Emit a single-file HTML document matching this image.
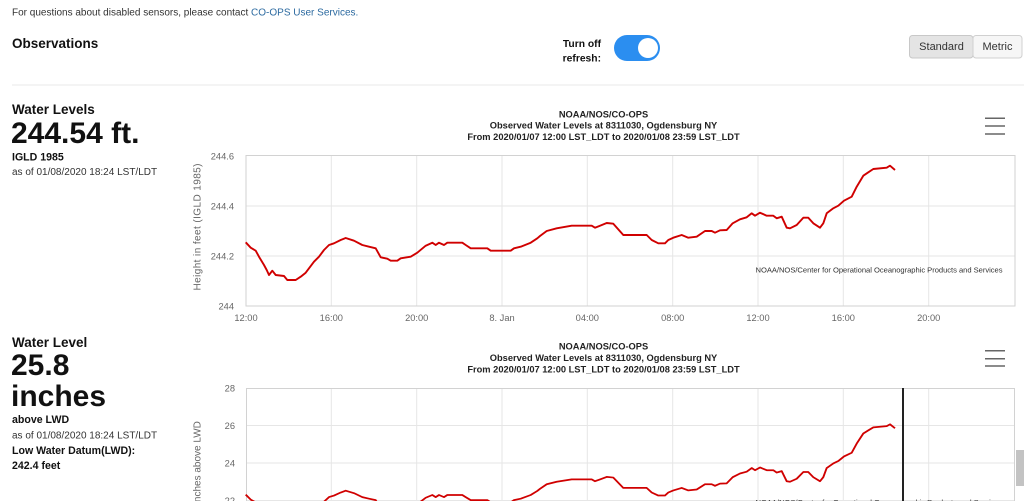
<!DOCTYPE html>
<html><head><meta charset="utf-8"><style>
html,body{margin:0;padding:0;background:#fff;overflow:hidden;width:1024px;height:501px}
svg{display:block;font-family:"Liberation Sans",Arial,sans-serif;overflow:hidden}
</style></head><body>
<svg width="1024" height="501" viewBox="0 0 1024 501" xmlns="http://www.w3.org/2000/svg">
<defs><clipPath id="pg"><rect x="0" y="0" width="1024" height="501"/></clipPath></defs>
<rect width="1024" height="501" fill="#fff"/>
<text x="12" y="15.5" font-size="10" fill="#333">For questions about disabled sensors, please contact <tspan fill="#2c6aa0">CO-OPS User Services.</tspan></text>
<text x="12" y="48" font-size="13.5" font-weight="bold" fill="#111">Observations</text>
<text x="601" y="46.8" font-size="10.3" font-weight="bold" fill="#111" text-anchor="end">Turn off</text>
<text x="601" y="61.6" font-size="10.3" font-weight="bold" fill="#111" text-anchor="end">refresh:</text>
<rect x="614" y="35" width="46" height="26" rx="13" fill="#2b8ef0"/>
<circle cx="648" cy="48" r="10" fill="#fff"/>
<rect x="909.5" y="35.5" width="63.5" height="22.5" rx="3" fill="#e4e4e4" stroke="#c8c8c8"/>
<rect x="973" y="35.5" width="49" height="22.5" rx="3" fill="#f6f6f6" stroke="#d0d0d0"/>
<text x="941.5" y="50" font-size="11" fill="#333" text-anchor="middle">Standard</text>
<text x="997.5" y="50" font-size="11" fill="#333" text-anchor="middle">Metric</text>
<line x1="12" y1="85" x2="1024" y2="85" stroke="#e8e8e8"/>

<!-- left panel 1 -->
<text x="12" y="114" font-size="13.5" font-weight="bold" fill="#111">Water Levels</text>
<text x="11" y="143" font-size="30" font-weight="bold" fill="#111">244.54 ft.</text>
<text x="12" y="160.5" font-size="10.6" font-weight="bold" fill="#111">IGLD 1985</text>
<text x="12" y="175" font-size="10" fill="#333">as of 01/08/2020 18:24 LST/LDT</text>

<!-- left panel 2 -->
<text x="12" y="347" font-size="13.5" font-weight="bold" fill="#111">Water Level</text>
<text x="11" y="375" font-size="30" font-weight="bold" fill="#111">25.8</text>
<text x="11" y="406" font-size="30" font-weight="bold" fill="#111">inches</text>
<text x="12" y="423" font-size="10.6" font-weight="bold" fill="#111">above LWD</text>
<text x="12" y="438.3" font-size="10" fill="#333">as of 01/08/2020 18:24 LST/LDT</text>
<text x="12" y="454" font-size="10.6" font-weight="bold" fill="#111">Low Water Datum(LWD):</text>
<text x="12" y="469" font-size="10.6" font-weight="bold" fill="#111">242.4 feet</text>

<!-- chart 1 -->
<g font-size="9.3" font-weight="bold" fill="#222" text-anchor="middle">
<text x="603.5" y="117.3">NOAA/NOS/CO-OPS</text>
<text x="603.5" y="128.7">Observed Water Levels at 8311030, Ogdensburg NY</text>
<text x="603.5" y="140">From 2020/01/07 12:00 LST_LDT to 2020/01/08 23:59 LST_LDT</text>
</g>
<g stroke="#666" stroke-width="1.5">
<line x1="985" y1="118.3" x2="1005" y2="118.3"/><line x1="985" y1="126" x2="1005" y2="126"/><line x1="985" y1="134" x2="1005" y2="134"/>
</g>
<g stroke="#e6e6e6" stroke-width="1">
<line x1="331.3" y1="155" x2="331.3" y2="306"/><line x1="416.7" y1="155" x2="416.7" y2="306"/><line x1="502" y1="155" x2="502" y2="306"/><line x1="587.3" y1="155" x2="587.3" y2="306"/><line x1="672.7" y1="155" x2="672.7" y2="306"/><line x1="758" y1="155" x2="758" y2="306"/><line x1="843.3" y1="155" x2="843.3" y2="306"/><line x1="928.7" y1="155" x2="928.7" y2="306"/>
<line x1="246" y1="206" x2="1015" y2="206"/><line x1="246" y1="256" x2="1015" y2="256"/>
</g>
<rect x="246" y="155.5" width="769" height="150.5" fill="none" stroke="#d2d2d2"/>
<g font-size="9.3" fill="#666" text-anchor="end">
<text x="234" y="159.5">244.6</text><text x="234" y="209.5">244.4</text><text x="234" y="259.5">244.2</text><text x="234" y="309.5">244</text>
</g>
<g font-size="9.3" fill="#666" text-anchor="middle">
<text x="246" y="321">12:00</text><text x="331.3" y="321">16:00</text><text x="416.7" y="321">20:00</text><text x="502" y="321">8. Jan</text><text x="587.3" y="321">04:00</text><text x="672.7" y="321">08:00</text><text x="758" y="321">12:00</text><text x="843.3" y="321">16:00</text><text x="928.7" y="321">20:00</text>
</g>
<text transform="translate(200.5,227) rotate(-90)" font-size="10" fill="#666" text-anchor="middle" textLength="127">Height in feet (IGLD 1985)</text>
<text x="1002.5" y="272.5" font-size="7.6" fill="#333" text-anchor="end" textLength="247">NOAA/NOS/Center for Operational Oceanographic Products and Services</text>
<polyline id="wl" fill="none" stroke="#d00000" stroke-width="1.9" stroke-linejoin="round" points="245.7,242.3 250.7,247.7 255.7,250.7 259,256.7 264,265 266.7,270 269,275 272.3,270.7 275.7,275 284,276 287.3,280 295.7,280 300.7,276.7 305.7,272.7 309,268.3 314,261.7 319,256.7 324,250 329,245 334,243.3 340.7,240 345.7,238 354,240.7 362.3,245 369,246.7 375.7,248.3 380.7,257.3 387.3,258.7 390.7,260.7 397.3,260.7 400.7,258.3 410.7,256.7 417.3,252.7 425.7,245.7 432.3,242.7 435.7,245 439,242.7 444,245 447.3,242.7 462.3,242.7 465.7,245 470.7,248.3 487.3,248.3 490.7,250.7 510.7,250.7 514,248.3 520.7,246.7 530.7,242.7 537.3,238.3 540,236 546.7,231 556.7,228.3 571.7,225.7 591.7,225.7 595,227.7 600,225.7 606.7,223 613.3,223.7 623.3,235 646.7,235 651.7,240 658.3,243.3 665,243.3 668.3,240 673.3,237.7 681.7,235 688.3,237.7 696.7,236.7 705,231 711.7,231 715,232.7 720,230.3 726.7,230 732.7,223.3 740,219.3 746.7,217.3 751.7,213.3 755,215.7 760,212.7 766.7,215.7 773.3,215.7 776.7,218.3 781.7,216.7 786.7,227.7 790,228.3 796.7,225 803.3,217.7 808.3,217.7 813.3,223.3 820,227.7 823.3,223.3 826.7,213.3 833.3,208.3 838.3,205.7 844,200.7 851.7,196.7 856.7,186.7 863.3,175.7 868.3,172.3 873.3,169 886.7,167.7 890,165.7 895,170"/>

<!-- chart 2 -->
<g font-size="9.3" font-weight="bold" fill="#222" text-anchor="middle">
<text x="603.5" y="349.3">NOAA/NOS/CO-OPS</text>
<text x="603.5" y="361">Observed Water Levels at 8311030, Ogdensburg NY</text>
<text x="603.5" y="372.7">From 2020/01/07 12:00 LST_LDT to 2020/01/08 23:59 LST_LDT</text>
</g>
<g stroke="#666" stroke-width="1.5">
<line x1="985" y1="350.7" x2="1005" y2="350.7"/><line x1="985" y1="358.7" x2="1005" y2="358.7"/><line x1="985" y1="366" x2="1005" y2="366"/>
</g>
<g clip-path="url(#pg)">
<g stroke="#e6e6e6" stroke-width="1">
<line x1="331.3" y1="388" x2="331.3" y2="501"/><line x1="416.7" y1="388" x2="416.7" y2="501"/><line x1="502" y1="388" x2="502" y2="501"/><line x1="587.3" y1="388" x2="587.3" y2="501"/><line x1="672.7" y1="388" x2="672.7" y2="501"/><line x1="758" y1="388" x2="758" y2="501"/><line x1="843.3" y1="388" x2="843.3" y2="501"/><line x1="928.7" y1="388" x2="928.7" y2="501"/>
<line x1="246" y1="425.5" x2="1015" y2="425.5"/><line x1="246" y1="463" x2="1015" y2="463"/><line x1="246" y1="500.5" x2="1015" y2="500.5"/>
</g>
<path d="M246.5,501 V388.5 H1014.5 V501" fill="none" stroke="#d2d2d2"/>
<g font-size="9.3" fill="#666" text-anchor="end">
<text x="235" y="391.5">28</text><text x="235" y="429">26</text><text x="235" y="466.5">24</text><text x="235" y="504">22</text>
</g>
<text transform="translate(200.5,463) rotate(-90)" font-size="10" fill="#666" text-anchor="middle">Inches above LWD</text>
<text x="1002.5" y="505" font-size="7.6" fill="#333" text-anchor="end" textLength="247">NOAA/NOS/Center for Operational Oceanographic Products and Services</text>
<g transform="matrix(1 0 0 0.918 0 272.2)">
<use href="#wl" style="vector-effect:non-scaling-stroke"/>
</g>
<line x1="903" y1="388" x2="903" y2="501" stroke="#222" stroke-width="2"/>
</g>
<rect x="1016" y="450" width="8" height="36" fill="#c3c3c3"/>
</svg>
</body></html>
